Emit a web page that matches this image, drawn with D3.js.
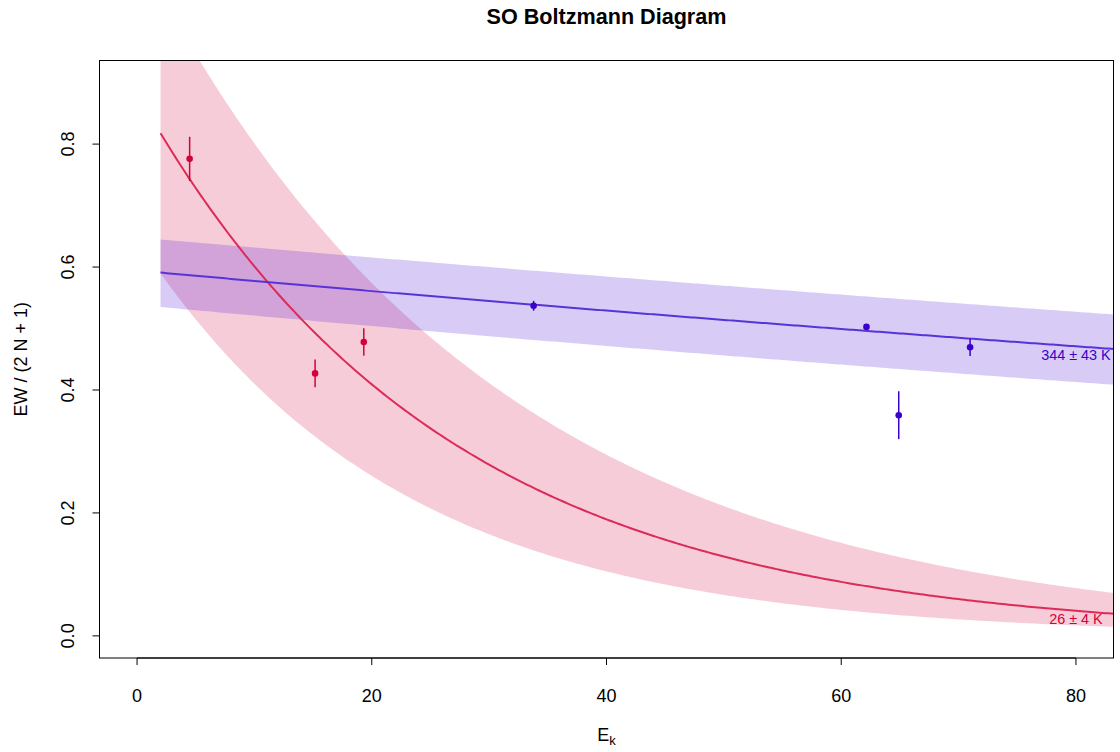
<!DOCTYPE html>
<html>
<head>
<meta charset="utf-8">
<script src="https://cdn.jsdelivr.net/npm/d3@7"></script>
<style>
  body { margin: 0; background: #fff; }
  text { font-family: "Liberation Sans", Arial, sans-serif; }
</style>
</head>
<body>
<div id="chart"></div>
<script>
// measured points (E_k, EW/(2N+1), error)
var redE = [4.48, 15.17, 19.32];
var redY = [0.776, 0.427, 0.478];
var redErr = [0.036, 0.0225, 0.0225];

var blueE = [33.79, 62.15, 64.9, 70.98];
var blueY = [0.537, 0.5026, 0.359, 0.4695];
var blueErr = [0.008, 0.004, 0.039, 0.0144];

// Boltzmann fits: A * exp(-E / T), band from (Alo, T - dT) to (Ahi, T + dT)
var fitNames = ["red", "blue"];
var fitT = [26, 344];
var fitTerr = [4, 43];
var fitAmp = [0.883, 0.5944];
var fitAmpLo = [0.646, 0.5386];
var fitAmpHi = [1.118, 0.6483];
var fitStart = 2;

var xTicks = [0, 20, 40, 60, 80];
var yTicks = [0, 0.2, 0.4, 0.6, 0.8];

var colors = {
    red: { point: "#d4003a", line: "#dc2b57", band: "rgba(215,0,63,0.2)" },
    blue: { point: "#3a00cc", line: "#5a33d8", band: "rgba(61,0,217,0.2)" }
};

var width = 1120, height = 752;
var pLeft = 99.5, pRight = 1113.5, pTop = 60.5, pBottom = 658;

var svg = d3.select("#chart").append("svg")
    .attr("width", width)
    .attr("height", height);

// R style 4% expansion of xlim c(0, 80), ylim c(0, 0.9)
var x = d3.scaleLinear().domain([-3.2, 83.2]).range([pLeft, pRight]);
var y = d3.scaleLinear().domain([-0.036, 0.936]).range([pBottom, pTop]);

svg.append("clipPath").attr("id", "plot-clip")
    .append("rect")
    .attr("x", pLeft).attr("y", pTop)
    .attr("width", pRight - pLeft).attr("height", pBottom - pTop);

var plot = svg.append("g").attr("clip-path", "url(#plot-clip)");

var grid = d3.range(fitStart, 83.5, 0.25);

function curve(a, t) {
    return grid.map(function(e) { return [e, a * Math.exp(-e / t)]; });
}

var line = d3.line()
    .x(function(d) { return x(d[0]); })
    .y(function(d) { return y(d[1]); });

var area = d3.area()
    .x(function(d) { return x(d[0]); })
    .y0(function(d) { return y(d[1]); })
    .y1(function(d) { return y(d[2]); });

// bands
fitNames.forEach(function(name, i) {
    var lo = curve(fitAmpLo[i], fitT[i] - fitTerr[i]);
    var hi = curve(fitAmpHi[i], fitT[i] + fitTerr[i]);
    var band = lo.map(function(d, j) { return [d[0], d[1], hi[j][1]]; });
    plot.append("path")
        .attr("d", area(band))
        .attr("fill", colors[name].band);
});

// fit lines
fitNames.forEach(function(name, i) {
    plot.append("path")
        .attr("d", line(curve(fitAmp[i], fitT[i])))
        .attr("fill", "none")
        .attr("stroke", colors[name].line)
        .attr("stroke-width", 2);
});

// points with error bars
function drawPoints(es, ys, errs, col) {
    var g = plot.append("g");
    es.forEach(function(e, i) {
        g.append("line")
            .attr("x1", x(e)).attr("x2", x(e))
            .attr("y1", y(ys[i] - errs[i])).attr("y2", y(ys[i] + errs[i]))
            .attr("stroke", col)
            .attr("stroke-width", 1.5);
        g.append("circle")
            .attr("cx", x(e)).attr("cy", y(ys[i]))
            .attr("r", 3.3)
            .attr("fill", col);
    });
}
drawPoints(redE, redY, redErr, colors.red.point);
drawPoints(blueE, blueY, blueErr, colors.blue.point);

// temperature labels below the curve at E = 80
fitNames.forEach(function(name, i) {
    var yv = fitAmp[i] * Math.exp(-80 / fitT[i]);
    svg.append("text")
        .attr("x", x(80))
        .attr("y", y(yv) + 13.5)
        .attr("text-anchor", "middle")
        .attr("font-size", "14.4px")
        .attr("fill", colors[name].point)
        .text(fitT[i] + " \u00b1 " + fitTerr[i] + " K");
});

// box
svg.append("rect")
    .attr("x", pLeft).attr("y", pTop)
    .attr("width", pRight - pLeft).attr("height", pBottom - pTop)
    .attr("fill", "none")
    .attr("stroke", "#000")
    .attr("stroke-width", 1);

// x axis
var xAxis = svg.append("g").attr("stroke", "#000");
xAxis.append("line")
    .attr("x1", x(xTicks[0])).attr("x2", x(xTicks[xTicks.length - 1]))
    .attr("y1", pBottom).attr("y2", pBottom);
xTicks.forEach(function(t) {
    xAxis.append("line")
        .attr("x1", x(t)).attr("x2", x(t))
        .attr("y1", pBottom).attr("y2", pBottom + 7);
    svg.append("text")
        .attr("x", x(t)).attr("y", 701.5)
        .attr("text-anchor", "middle")
        .attr("font-size", "18px")
        .text(t);
});

// y axis
var yAxis = svg.append("g").attr("stroke", "#000");
yAxis.append("line")
    .attr("x1", pLeft).attr("x2", pLeft)
    .attr("y1", y(yTicks[0])).attr("y2", y(yTicks[yTicks.length - 1]));
yTicks.forEach(function(t) {
    yAxis.append("line")
        .attr("x1", pLeft - 7).attr("x2", pLeft)
        .attr("y1", y(t)).attr("y2", y(t));
    svg.append("text")
        .attr("transform", "translate(74," + y(t) + ") rotate(-90)")
        .attr("text-anchor", "middle")
        .attr("font-size", "18px")
        .text(t.toFixed(1));
});

// titles
svg.append("text")
    .attr("x", (pLeft + pRight) / 2).attr("y", 23.5)
    .attr("text-anchor", "middle")
    .attr("font-size", "21.6px")
    .attr("font-weight", "bold")
    .text("SO Boltzmann Diagram");

var xl = svg.append("text")
    .attr("x", (pLeft + pRight) / 2).attr("y", 741)
    .attr("text-anchor", "middle")
    .attr("font-size", "18px");
xl.append("tspan").text("E");
xl.append("tspan").attr("font-size", "13px").attr("dy", 4).text("k");

svg.append("text")
    .attr("transform", "translate(27," + (pTop + pBottom) / 2 + ") rotate(-90)")
    .attr("text-anchor", "middle")
    .attr("font-size", "18px")
    .text("EW / (2 N + 1)");
</script>
</body>
</html>
